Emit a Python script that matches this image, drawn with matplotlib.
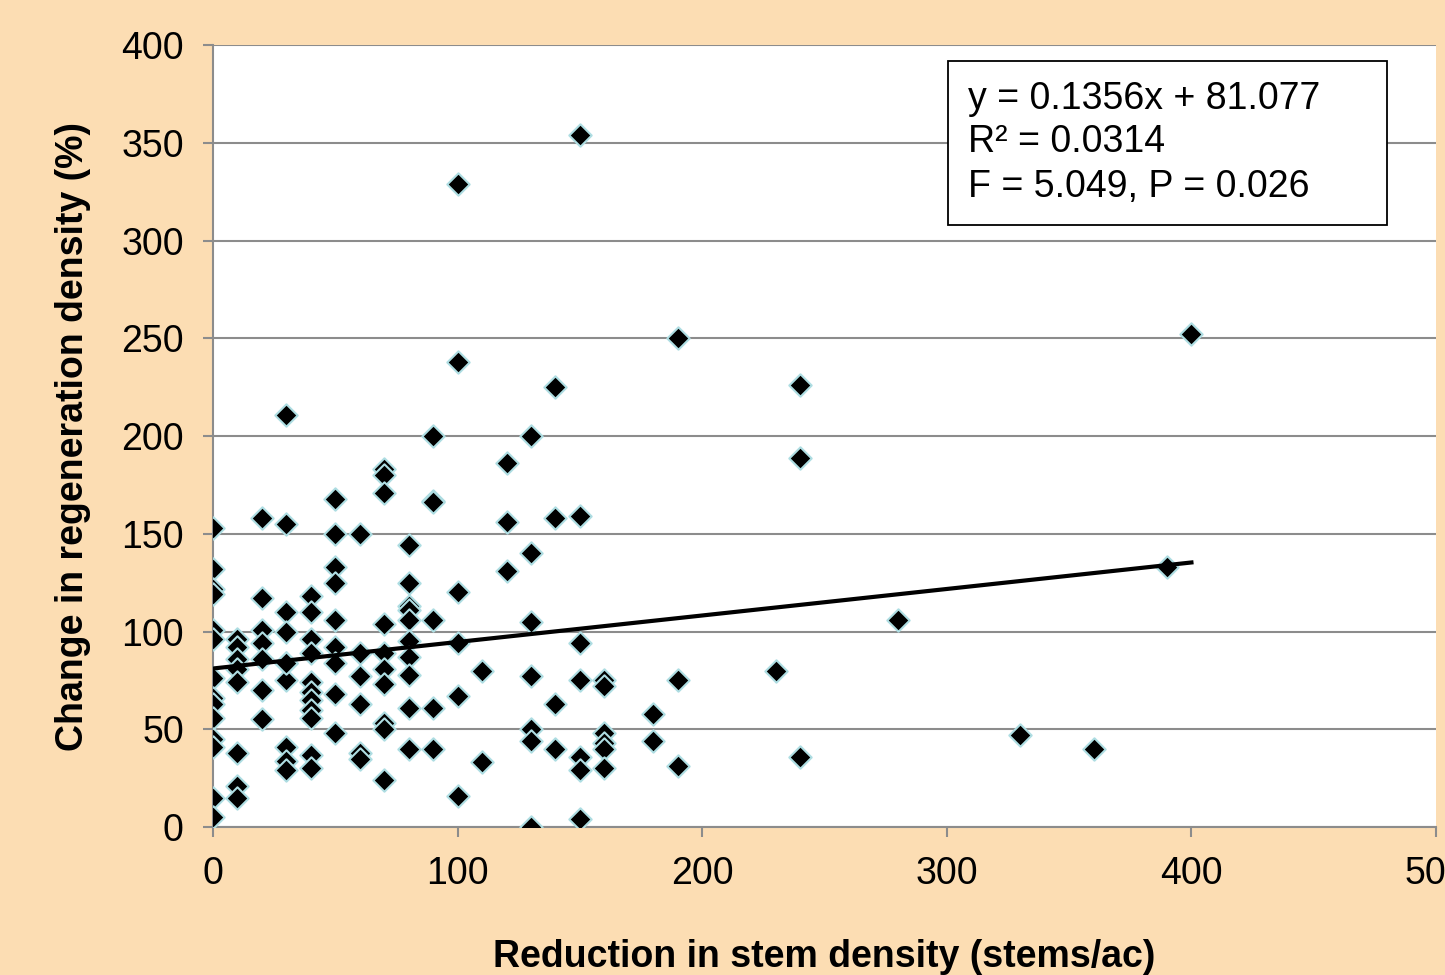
import numpy as np
import matplotlib.pyplot as plt
from matplotlib.patches import Rectangle

plt.rcParams['font.family'] = ['Liberation Sans', 'DejaVu Sans']

# stem density reduction (stems/ac) and regeneration change (%)
reduction = [0, 0, 0, 0, 0, 0, 0, 0, 0, 0, 0, 0, 0, 0,
             10, 10, 10, 10, 10, 10, 10, 10,
             20, 20, 20, 20, 20, 20, 20,
             30, 30, 30, 30, 30, 30, 30, 30, 30, 30,
             40, 40, 40, 40, 40, 40, 40, 40, 40, 40, 40,
             50, 50, 50, 50, 50, 50, 50, 50, 50,
             60, 60, 60, 60, 60, 60,
             70, 70, 70, 70, 70, 70, 70, 70, 70, 70,
             80, 80, 80, 80, 80, 80, 80, 80, 80, 80,
             90, 90, 90, 90, 90, 90,
             100, 100, 100, 100, 100, 100,
             110, 110,
             120, 120, 120,
             130, 130, 130, 130, 130, 130, 130,
             140, 140, 140, 140,
             150, 150, 150, 150, 150, 150, 150,
             160, 160, 160, 160, 160, 160,
             180, 180,
             190, 190, 190,
             230, 240, 240, 240, 280, 330, 360, 390, 400]
regen_change = [153, 132, 122, 119, 101, 96, 76, 66, 63, 56, 45, 41, 15, 5,
                96, 92, 86, 81, 74, 38, 21, 15,
                158, 117, 101, 94, 86, 70, 55,
                211, 155, 110, 100, 84, 75, 41, 34, 29, 84,
                118, 110, 96, 89, 74, 69, 65, 60, 56, 37, 30,
                168, 150, 133, 125, 106, 92, 84, 68, 48,
                150, 89, 77, 63, 38, 35,
                183, 180, 171, 104, 89, 81, 73, 53, 50, 24,
                144, 125, 113, 111, 106, 95, 87, 78, 61, 40,
                200, 167, 166, 106, 61, 40,
                329, 238, 120, 94, 67, 16,
                80, 33,
                186, 156, 131,
                200, 140, 105, 77, 50, 44, 0,
                225, 158, 63, 40,
                354, 159, 94, 75, 36, 29, 4,
                75, 72, 48, 43, 40, 30,
                58, 44,
                250, 75, 31,
                80, 226, 189, 36, 106, 47, 40, 133, 252]

slope = 0.1356
intercept = 81.077
stats_lines = ['y = 0.1356x + 81.077', 'R² = 0.0314', 'F = 5.049, P = 0.026']

bg = '#FCDDB3'
fig = plt.figure(figsize=(14.45, 9.75), dpi=100, facecolor=bg)
ax = fig.add_axes([0.1474, 0.1518, 0.8464, 0.802])
ax.set_facecolor('white')

ax.scatter(reduction, regen_change, marker='D', s=130, color='black',
           edgecolors='#AEDDE2', linewidths=1.5, zorder=3)

xfit = np.array([0, 400])
ax.plot(xfit, slope * xfit + intercept, color='black', lw=3, zorder=4)

ax.set_xlim(0, 500)
ax.set_ylim(0, 400)
ax.set_xticks(range(0, 501, 100))
ax.set_yticks(range(0, 401, 50))
ax.yaxis.grid(True, color='#8C8C8C', lw=1.5)
ax.set_axisbelow(True)
for s in ['top', 'right']:
    ax.spines[s].set_visible(False)
for s in ['left', 'bottom']:
    ax.spines[s].set_color('#8C8C8C')
    ax.spines[s].set_linewidth(1.5)
ax.tick_params(axis='both', length=7, width=1.5, color='#8C8C8C',
               labelsize=27, pad=14)

ax.set_xlabel('Reduction in stem density (stems/ac)', fontsize=27,
              fontweight='bold', labelpad=34)
ax.set_ylabel('Change in regeneration density (%)', fontsize=27,
              fontweight='bold', labelpad=22)

# equation box
ax.add_patch(Rectangle((0.601, 0.770), 0.359, 0.2095, transform=ax.transAxes,
                       facecolor='white', edgecolor='black', lw=1.3, zorder=5))
for ypos, line in zip([0.931, 0.876, 0.818], stats_lines):
    ax.text(0.617, ypos, line, transform=ax.transAxes, fontsize=27,
            va='center', ha='left', zorder=6)

fig.savefig('out.png', dpi=100, facecolor=bg)
